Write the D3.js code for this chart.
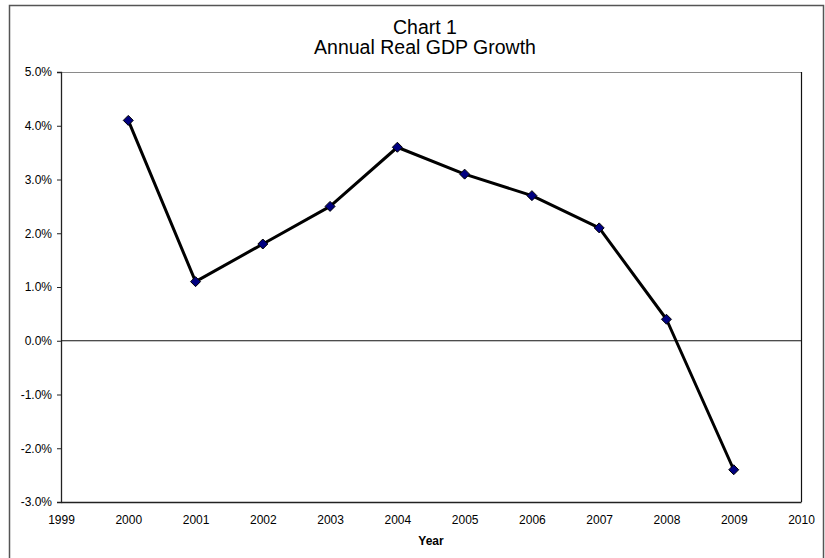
<!DOCTYPE html>
<html>
<head>
<meta charset="utf-8">
<script src="https://cdn.jsdelivr.net/npm/d3@7"></script>
<style>
html,body{margin:0;padding:0;background:#fff;}
svg{display:block;font-family:"Liberation Sans",Arial,sans-serif;}
</style>
</head>
<body>
<svg id="chart" width="825" height="558"></svg>
<script>
const years = [2000, 2001, 2002, 2003, 2004, 2005, 2006, 2007, 2008, 2009];
const growth = [4.1, 1.1, 1.8, 2.5, 3.6, 3.1, 2.7, 2.1, 0.4, -2.4];
const yTicks = [-3, -2, -1, 0, 1, 2, 3, 4, 5];
const xTicks = [1999, 2000, 2001, 2002, 2003, 2004, 2005, 2006, 2007, 2008, 2009, 2010];
const titleLines = ["Chart 1", "Annual Real GDP Growth"];
const xTitle = "Year";

const svg = d3.select("#chart");
const plot = {left: 61, right: 801, top: 72, bottom: 502};

// outer chart border
svg.append("rect").attr("x", 9.5).attr("y", 5.5).attr("width", 814).attr("height", 560)
  .attr("fill", "#fff").attr("stroke", "#555").attr("stroke-width", 1.5);

const x = d3.scaleLinear().domain([1999, 2010]).range([plot.left, plot.right]);
const y = d3.scaleLinear().domain([-3, 5]).range([plot.bottom, plot.top]);

// plot area border
svg.append("line").attr("x1", plot.left).attr("x2", plot.right).attr("y1", plot.top + 0.5).attr("y2", plot.top + 0.5)
  .attr("stroke", "#8a8a8a").attr("stroke-width", 1.2);
svg.append("line").attr("x1", plot.right + 0.5).attr("x2", plot.right + 0.5).attr("y1", plot.top).attr("y2", plot.bottom)
  .attr("stroke", "#111").attr("stroke-width", 1.2);

const fmtPct = d => d3.format(".1f")(d).replace("\u2212", "-") + "%";

// y axis
const yAxis = d3.axisLeft(y).tickValues(yTicks).tickSize(4).tickPadding(5).tickFormat(fmtPct);
const gy = svg.append("g").attr("transform", `translate(${plot.left},0)`).call(yAxis);
gy.select(".domain").attr("stroke", "#222").attr("stroke-width", 1.3);
gy.selectAll(".tick line").attr("stroke", "#222");
gy.selectAll("text").attr("font-size", 12).attr("fill", "#000")
  .attr("font-family", "'Liberation Sans', Arial, sans-serif");

// bottom axis (labels only)
const xAxis = d3.axisBottom(x).tickValues(xTicks).tickSize(0).tickPadding(13).tickFormat(d3.format("d"));
const gx = svg.append("g").attr("transform", `translate(0,${plot.bottom})`).call(xAxis);
gx.select(".domain").attr("stroke", "#222").attr("stroke-width", 1.3);
gx.selectAll("text").attr("font-size", 12).attr("fill", "#000")
  .attr("font-family", "'Liberation Sans', Arial, sans-serif");

// zero line
svg.append("line").attr("x1", plot.left).attr("x2", plot.right).attr("y1", y(0)).attr("y2", y(0))
  .attr("stroke", "#111").attr("stroke-width", 1.2);

// data line
const data = years.map((yr, i) => ({yr, v: growth[i]}));
svg.append("path").datum(data)
  .attr("fill", "none").attr("stroke", "#000").attr("stroke-width", 3).attr("stroke-linejoin", "round")
  .attr("d", d3.line().x(d => x(d.yr)).y(d => y(d.v)));

// markers
svg.selectAll(".mk").data(data).enter().append("path").attr("class", "mk")
  .attr("transform", d => `translate(${x(d.yr)},${y(d.v)})`)
  .attr("d", "M0,-5L5,0L0,5L-5,0Z")
  .attr("fill", "#000080").attr("stroke", "#000").attr("stroke-width", 1);

// title
svg.append("text").attr("x", 425).attr("y", 34).attr("text-anchor", "middle")
  .attr("font-size", 19.5).text(titleLines[0]);
svg.append("text").attr("x", 425).attr("y", 54).attr("text-anchor", "middle")
  .attr("font-size", 19.5).text(titleLines[1]);

// x title
svg.append("text").attr("x", 431).attr("y", 545).attr("text-anchor", "middle")
  .attr("font-size", 12).attr("font-weight", "bold").text(xTitle);
</script>
</body>
</html>
